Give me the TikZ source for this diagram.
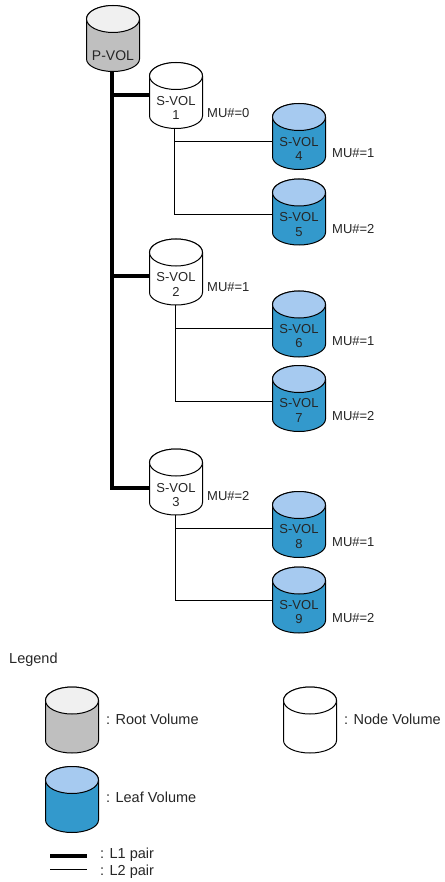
\documentclass[tikz,border=0pt]{standalone}
\usepackage{fontspec}
\setmainfont{Liberation Sans}
\definecolor{rootbody}{HTML}{BFBFBF}
\definecolor{roottop}{HTML}{F0F0F0}
\definecolor{leafbody}{HTML}{3399CC}
\definecolor{leaftop}{HTML}{A6CAF0}
\newcommand{\volume}[4]{
    \node[volbox] (#1) at (#2) {};
    \draw[line width=1pt, fill=#3] ([yshift=-13.5pt]#1.north west) -- ([yshift=12.5pt]#1.south west)
        arc[start angle=180, end angle=360, x radius=26.5pt, y radius=12.5pt]
        -- ([yshift=-13.5pt]#1.north east)
        arc[start angle=0, end angle=180, x radius=26.5pt, y radius=13.5pt] -- cycle;
    \draw[line width=1pt, fill=#4] ([yshift=-13.5pt]#1.north) ellipse[x radius=26.5pt, y radius=13.5pt];
}
\begin{document}
\begin{tikzpicture}[x=1pt,y=-1pt,font=\fontsize{13}{14.5}\selectfont,
    volbox/.style={minimum width=53pt, minimum height=66pt, inner sep=0pt, outer sep=0pt},
    voltext/.style={align=center, inner sep=0pt, text=black!85},
    lonepair/.style={line width=4pt},
    ltwopair/.style={line width=1pt},
    tag/.style={anchor=west, inner sep=0pt, text=black!85},
    keytag/.style={tag, font=\fontsize{14.5}{16}\selectfont}]
    \useasboundingbox (0,0) rectangle (444,882);
    \volume{pvol}{113,38.5}{rootbody}{roottop}
    \volume{sone}{176,95.5}{white}{white}
    \volume{stwo}{176,272}{white}{white}
    \volume{sthree}{176,482}{white}{white}
    \volume{sfour}{299,136.5}{leafbody}{leaftop}
    \volume{sfive}{299,212}{leafbody}{leaftop}
    \volume{ssix}{299,324}{leafbody}{leaftop}
    \volume{sseven}{299,398.5}{leafbody}{leaftop}
    \volume{seight}{299,524.5}{leafbody}{leaftop}
    \volume{snine}{299,600}{leafbody}{leaftop}
    \node[voltext, font=\fontsize{14}{14.5}\selectfont] (pvoltext) at ([yshift=-17.5pt]pvol.center) {P-VOL};
    \node[voltext] (sonetext) at ([yshift=-12.5pt]sone.center) {S-VOL\\1};
    \node[voltext] (stwotext) at ([yshift=-12.5pt]stwo.center) {S-VOL\\2};
    \node[voltext] (sthreetext) at ([yshift=-13pt]sthree.center) {S-VOL\\3};
    \node[voltext] (sfourtext) at ([yshift=-12.5pt]sfour.center) {S-VOL\\4};
    \node[voltext] (sfivetext) at ([yshift=-12.5pt]sfive.center) {S-VOL\\5};
    \node[voltext] (ssixtext) at ([yshift=-12pt]ssix.center) {S-VOL\\6};
    \node[voltext] (sseventext) at ([yshift=-12pt]sseven.center) {S-VOL\\7};
    \node[voltext] (seighttext) at ([yshift=-12pt]seight.center) {S-VOL\\8};
    \node[voltext] (sninetext) at ([yshift=-12pt]snine.center) {S-VOL\\9};
    \draw[lonepair] ([xshift=-1pt]pvol.south) |- (sone.west);
    \draw[lonepair] ([xshift=-1pt]pvol.south) |- ([yshift=-4pt]stwo.west);
    \draw[lonepair] ([xshift=-1pt]pvol.south) |- ([yshift=-6pt]sthree.west);
    \draw[ltwopair] ([xshift=-2pt]sone.south) |- ([yshift=-5.5pt]sfour.west);
    \draw[ltwopair] ([xshift=-2pt]sone.south) |- ([yshift=-3pt]sfive.west);
    \draw[ltwopair] ([xshift=-1pt]stwo.south) |- ([yshift=-4pt]ssix.west);
    \draw[ltwopair] ([xshift=-1pt]stwo.south) |- ([yshift=-2.5pt]sseven.west);
    \draw[ltwopair] ([xshift=-1pt]sthree.south) |- ([yshift=-3.5pt]seight.west);
    \draw[ltwopair] ([xshift=-1pt]sthree.south) |- (snine.west);
    \node[tag] (muone) at (207,113) {MU\#=0};
    \node[tag] (mutwo) at (207,287) {MU\#=1};
    \node[tag] (muthree) at (207,496) {MU\#=2};
    \node[tag] (mufour) at (332,153) {MU\#=1};
    \node[tag] (mufive) at (332,229) {MU\#=2};
    \node[tag] (musix) at (332,341) {MU\#=1};
    \node[tag] (museven) at (332,416) {MU\#=2};
    \node[tag] (mueight) at (332,542) {MU\#=1};
    \node[tag] (munine) at (332,618) {MU\#=2};
    \node[keytag] (legend) at (9,660) {Legend};
    \volume{rootkey}{72,720}{rootbody}{roottop}
    \volume{nodekey}{310,720}{white}{white}
    \volume{leafkey}{72,799.5}{leafbody}{leaftop}
    \node[keytag] (roottext) at (106,719) {: Root Volume};
    \node[keytag] (nodetext) at (344,719) {: Node Volume};
    \node[keytag] (leaftext) at (106,797) {: Leaf Volume};
    \coordinate (lonea) at (50,856);
    \coordinate (loneb) at (87,856);
    \coordinate (ltwoa) at (50,869);
    \coordinate (ltwob) at (87,869);
    \draw[lonepair] (lonea) -- (loneb);
    \draw[ltwopair] (ltwoa) -- (ltwob);
    \node[keytag] (lonetext) at (100,855) {: L1 pair};
    \node[keytag] (ltwotext) at (100,872) {: L2 pair};
\end{tikzpicture}
\end{document}
